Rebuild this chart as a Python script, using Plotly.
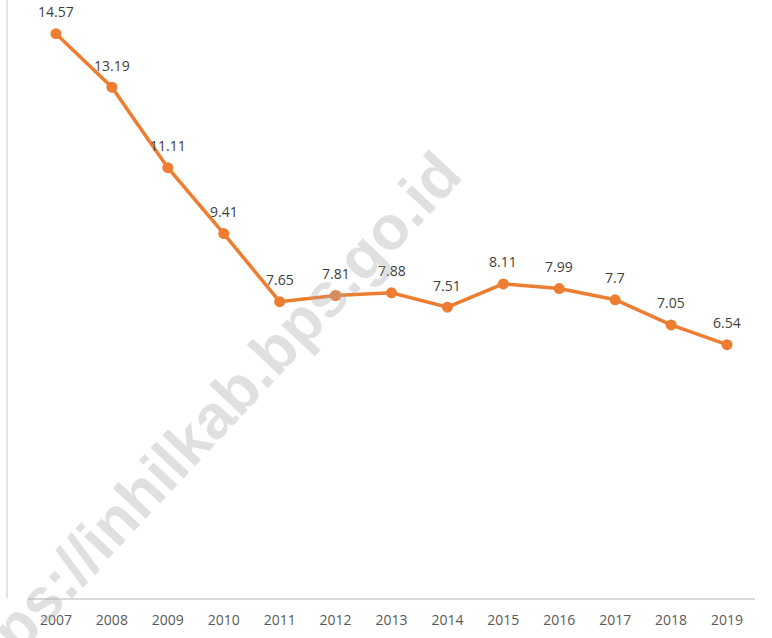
import plotly.graph_objects as go

years = ['2007', '2008', '2009', '2010', '2011', '2012', '2013',
         '2014', '2015', '2016', '2017', '2018', '2019']
values = [14.57, 13.19, 11.11, 9.41, 7.65, 7.81, 7.88,
          7.51, 8.11, 7.99, 7.7, 7.05, 6.54]

fig = go.Figure(go.Scatter(
    x=years,
    y=values,
    mode='lines+markers',
    line=dict(color='#ED7D31', width=3.5),
    marker=dict(color='#ED7D31', size=11),
    cliponaxis=False,
    hoverinfo='skip',
))

# nilai di atas titik (x = indeks kategori)
for i, v in enumerate(values):
    fig.add_annotation(
        x=i, y=v, text=f"{v:g}", showarrow=False, yshift=22,
        xanchor='center', yanchor='middle',
        font=dict(family='Open Sans, Liberation Sans, sans-serif', size=14, color='#404040'),
    )

# watermark
fig.add_annotation(
    xref='paper', yref='paper', x=0.235, y=0.28,
    xanchor='center', yanchor='middle',
    text='<b>https://inhilkab.bps.go.id</b>', showarrow=False, textangle=-47,
    font=dict(family='Liberation Sans, Arial, sans-serif', size=62, color='rgba(170,170,170,0.36)'),
)

# garis vertikal kiri
fig.add_shape(type='line', xref='paper', yref='paper', x0=-0.0289, x1=-0.0289, y0=0, y1=1,
              line=dict(color='#d9d9d9', width=1.5))

fig.update_layout(
    width=772, height=638,
    margin=dict(l=28, r=17, t=0, b=40),
    plot_bgcolor='white', paper_bgcolor='white',
    showlegend=False,
    xaxis=dict(
        type='category', range=[-0.5, 12.5],
        showline=True, linecolor='#d9d9d9', linewidth=1.5,
        showgrid=False, zeroline=False,
        ticks='outside', ticklen=8, tickcolor='rgba(0,0,0,0)',
        tickfont=dict(family='Open Sans, Liberation Sans, sans-serif', size=14, color='#595959'),
    ),
    yaxis=dict(range=[0, 15.44], showticklabels=False, showline=False,
               showgrid=False, zeroline=False, ticks=''),
)

fig.write_html("out.html", config={'displayModeBar': False},
               post_script="document.body.style.margin='0';")
